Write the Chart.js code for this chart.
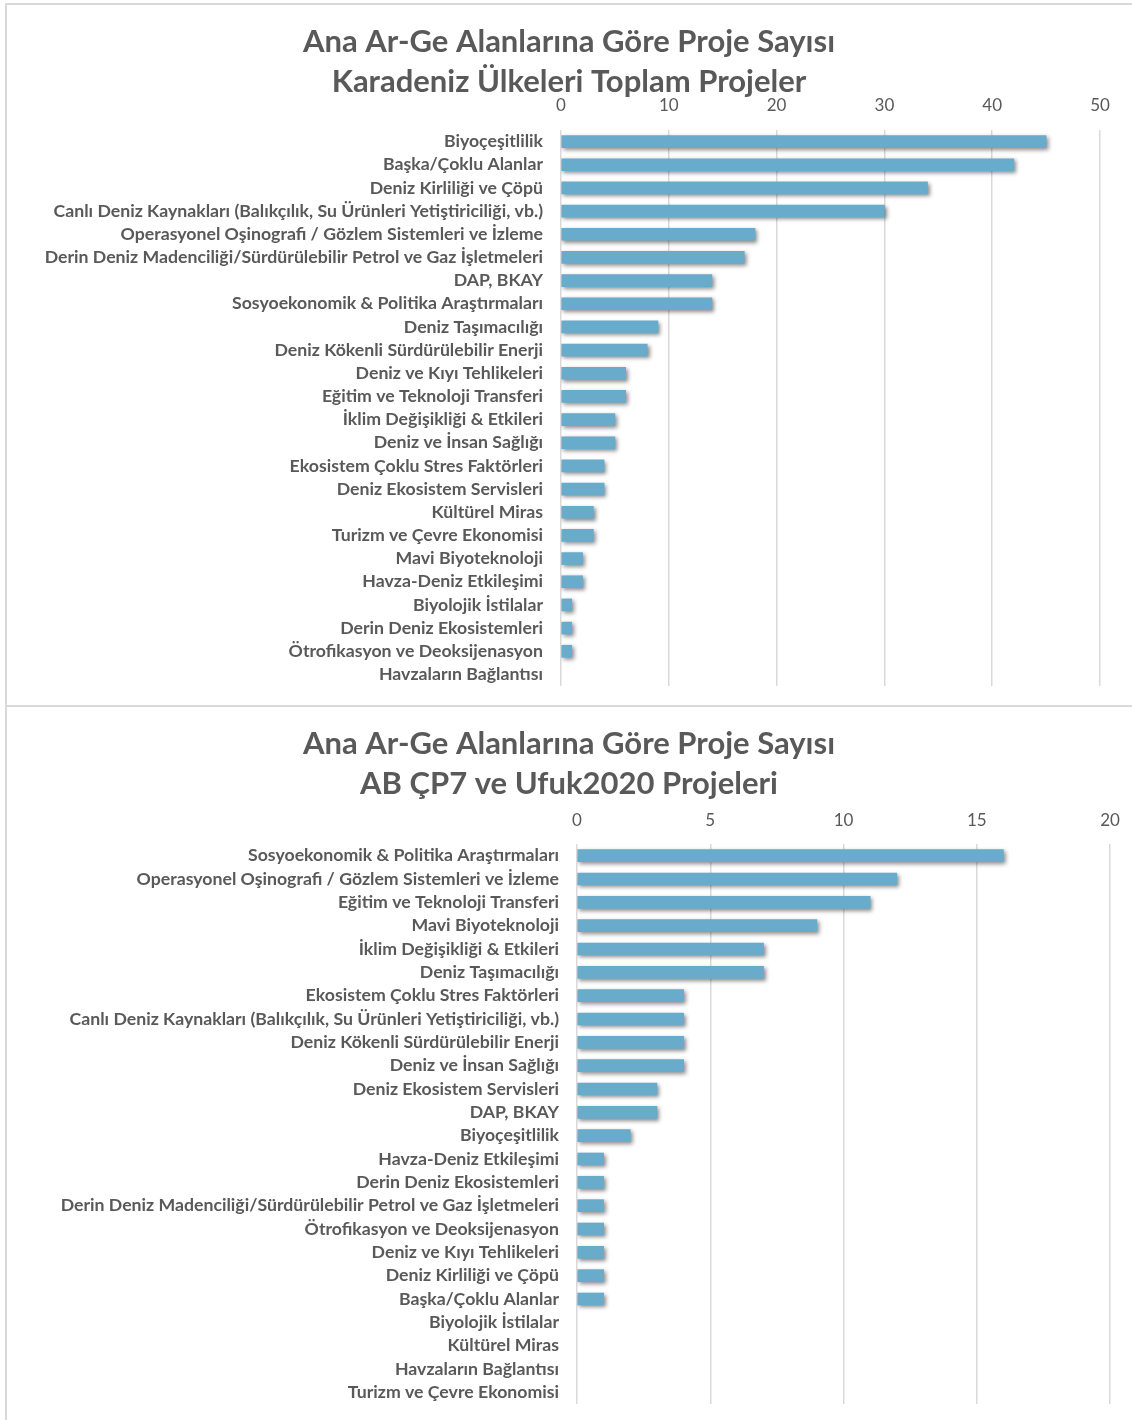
<!DOCTYPE html>
<html>
<head>
<meta charset="utf-8">
<script src="https://cdn.jsdelivr.net/npm/chart.js@4.4.1/dist/chart.umd.min.js"></script>
<style>
  body { margin: 0; background: #fff; width: 1132px; height: 1420px; overflow: hidden; position: relative; }
  .panel { position: absolute; border: 2px solid #d9d9d9; box-sizing: border-box; }
  .wrap { position: absolute; }
</style>
</head>
<body>
<div class="panel" style="left:5px; top:3px; width:1140px; height:704px;"></div>
<div class="panel" style="left:5px; top:705px; width:1140px; height:730px;"></div>
<div class="wrap" style="left:6px; top:4px; width:1126px; height:700px;"><canvas id="chartTop"></canvas></div>
<div class="wrap" style="left:6px; top:706px; width:1126px; height:714px;"><canvas id="chartBottom"></canvas></div>
<script>
// Karadeniz ülkeleri toplam projeler
const topTitle = ['Ana Ar-Ge Alanlarına Göre Proje Sayısı', 'Karadeniz Ülkeleri Toplam Projeler'];
const topCategories = [
  'Biyoçeşitlilik',
  'Başka/Çoklu Alanlar',
  'Deniz Kirliliği ve Çöpü',
  'Canlı Deniz Kaynakları (Balıkçılık, Su Ürünleri Yetiştiriciliği, vb.)',
  'Operasyonel Oşinografi / Gözlem Sistemleri ve İzleme',
  'Derin Deniz Madenciliği/Sürdürülebilir Petrol ve Gaz İşletmeleri',
  'DAP, BKAY',
  'Sosyoekonomik & Politika Araştırmaları',
  'Deniz Taşımacılığı',
  'Deniz Kökenli Sürdürülebilir Enerji',
  'Deniz ve Kıyı Tehlikeleri',
  'Eğitim ve Teknoloji Transferi',
  'İklim Değişikliği & Etkileri',
  'Deniz ve İnsan Sağlığı',
  'Ekosistem Çoklu Stres Faktörleri',
  'Deniz Ekosistem Servisleri',
  'Kültürel Miras',
  'Turizm ve Çevre Ekonomisi',
  'Mavi Biyoteknoloji',
  'Havza-Deniz Etkileşimi',
  'Biyolojik İstilalar',
  'Derin Deniz Ekosistemleri',
  'Ötrofikasyon ve Deoksijenasyon',
  'Havzaların Bağlantısı'
];
const topValues = [45, 42, 34, 30, 18, 17, 14, 14, 9, 8, 6, 6, 5, 5, 4, 4, 3, 3, 2, 2, 1, 1, 1, 0];
const topAxisMax = 50;
const topAxisStep = 10;

// AB ÇP7 ve Ufuk2020 projeleri
const bottomTitle = ['Ana Ar-Ge Alanlarına Göre Proje Sayısı', 'AB ÇP7 ve Ufuk2020 Projeleri'];
const bottomCategories = [
  'Sosyoekonomik & Politika Araştırmaları',
  'Operasyonel Oşinografi / Gözlem Sistemleri ve İzleme',
  'Eğitim ve Teknoloji Transferi',
  'Mavi Biyoteknoloji',
  'İklim Değişikliği & Etkileri',
  'Deniz Taşımacılığı',
  'Ekosistem Çoklu Stres Faktörleri',
  'Canlı Deniz Kaynakları (Balıkçılık, Su Ürünleri Yetiştiriciliği, vb.)',
  'Deniz Kökenli Sürdürülebilir Enerji',
  'Deniz ve İnsan Sağlığı',
  'Deniz Ekosistem Servisleri',
  'DAP, BKAY',
  'Biyoçeşitlilik',
  'Havza-Deniz Etkileşimi',
  'Derin Deniz Ekosistemleri',
  'Derin Deniz Madenciliği/Sürdürülebilir Petrol ve Gaz İşletmeleri',
  'Ötrofikasyon ve Deoksijenasyon',
  'Deniz ve Kıyı Tehlikeleri',
  'Deniz Kirliliği ve Çöpü',
  'Başka/Çoklu Alanlar',
  'Biyolojik İstilalar',
  'Kültürel Miras',
  'Havzaların Bağlantısı',
  'Turizm ve Çevre Ekonomisi'
];
const bottomValues = [16, 12, 11, 9, 7, 7, 4, 4, 4, 4, 3, 3, 2, 1, 1, 1, 1, 1, 1, 1, 0, 0, 0, 0];
const bottomAxisMax = 20;
const bottomAxisStep = 5;

const barColor = '#69abcb';
const textColor = '#595959';
const gridColor = '#d9d9d9';
const fontName = 'Lato, "Open Sans", sans-serif';

// gölge efekti (Excel tarzı)
const shadowPlugin = {
  id: 'barShadow',
  beforeDatasetsDraw(chart) {
    const ctx = chart.ctx;
    ctx.save();
    ctx.shadowColor = 'rgba(0, 0, 0, 0.45)';
    ctx.shadowBlur = 4;
    ctx.shadowOffsetX = 2;
    ctx.shadowOffsetY = 2;
  },
  afterDatasetsDraw(chart) {
    chart.ctx.restore();
  }
};

function noPadding(scale) {
  scale.paddingTop = 0;
  scale.paddingBottom = 0;
  scale.paddingLeft = 0;
  scale.paddingRight = 0;
}

function makeChart(id, title, categories, values, axisMax, axisStep, opts) {
  const ctx = document.getElementById(id).getContext('2d');
  return new Chart(ctx, {
    type: 'bar',
    data: {
      labels: categories,
      datasets: [{
        data: values,
        // sıfır değerde gölge izi kalmasın
        backgroundColor: (c) => (c.raw === 0 ? 'rgba(0,0,0,0)' : barColor),
        barThickness: 12,
        borderWidth: 0
      }]
    },
    options: {
      indexAxis: 'y',
      responsive: true,
      maintainAspectRatio: false,
      animation: false,
      layout: { padding: { left: 0, right: 0, top: 0, bottom: opts.padBottom } },
      plugins: {
        legend: { display: false },
        tooltip: { enabled: false },
        title: {
          display: true,
          text: title,
          color: textColor,
          font: { family: fontName, size: 31, weight: 'bold', lineHeight: 1.29 },
          padding: { top: 18, bottom: -10 }
        }
      },
      scales: {
        x: {
          position: 'top',
          min: 0,
          max: axisMax,
          ticks: {
            stepSize: axisStep,
            color: textColor,
            padding: opts.tickPad,
            font: { family: fontName, size: 17 }
          },
          grid: { color: gridColor, lineWidth: 1.5, drawTicks: false },
          border: { display: false },
          afterFit(scale) { scale.height = opts.xAxisHeight; noPadding(scale); }
        },
        y: {
          ticks: {
            color: textColor,
            padding: 18,
            autoSkip: false,
            font: { family: fontName, size: 17.7, weight: 'bold' }
          },
          grid: { display: false, drawTicks: false },
          border: { display: false },
          afterFit(scale) { scale.width = opts.yAxisWidth; noPadding(scale); }
        },
        // sağ boşluk için boş eksen (başlık ortalı kalsın)
        yRight: {
          type: 'category',
          axis: 'y',
          position: 'right',
          ticks: { display: false },
          grid: { display: false, drawTicks: false },
          border: { display: false },
          afterFit(scale) { scale.width = opts.padRight; noPadding(scale); }
        }
      }
    },
    plugins: [shadowPlugin]
  });
}

makeChart('chartTop', topTitle, topCategories, topValues, topAxisMax, topAxisStep,
  { padRight: 32, padBottom: 18, xAxisHeight: 38, yAxisWidth: 555, tickPad: 14 });
makeChart('chartBottom', bottomTitle, bottomCategories, bottomValues, bottomAxisMax, bottomAxisStep,
  { padRight: 22, padBottom: 16, xAxisHeight: 50, yAxisWidth: 571, tickPad: 13 });
</script>
</body>
</html>
